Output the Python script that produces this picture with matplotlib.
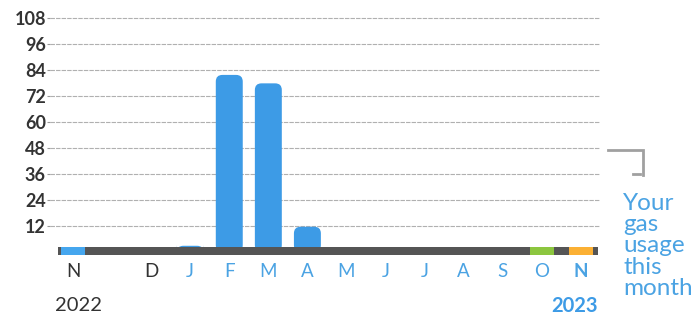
import numpy as np
import matplotlib
matplotlib.use("Agg")
import matplotlib.pyplot as plt
from matplotlib.patches import FancyBboxPatch, Rectangle

plt.rcParams['font.family'] = ['Lato', 'DejaVu Sans']

# data
months = ['N', 'D', 'J', 'F', 'M', 'A', 'M', 'J', 'J', 'A', 'S', 'O', 'N']
usage = [0, 0, 2.7, 81.7, 77.8, 11.5, 0, 0, 0, 0, 0, 0, 0]
strip_colors = ['#45a6ee', '#555555', '#555555', '#555555', '#555555', '#555555', '#555555',
                '#555555', '#555555', '#555555', '#555555', '#8cc63f', '#fbb034']
label_colors = ['#333333', '#333333'] + ['#4ba3e3'] * 11
yticks = [12, 24, 36, 48, 60, 72, 84, 96, 108]
years = ['2022', '2023']
note = ['Your', 'gas', 'usage', 'this', 'month']

bar_blue = '#3d9be6'
dark = '#333333'
W, H = 696, 316

# gap after the first month (last year's November)
x = np.r_[0, np.arange(2, 14)].astype(float)

fig = plt.figure(figsize=(W / 100, H / 100), dpi=100)
ax = fig.add_axes([50 / W, 1 - 264.6 / H, 550 / W, 250.9 / H])
ax.set_xlim(-0.589, 13.49)
ax.set_ylim(-6, 110)

# px per data unit to keep the corners round
px_x = 550 / (13.49 + 0.589)
px_y = 250.9 / 116
aspect = px_x / px_y

bw = 0.69
for xi, v in zip(x, usage):
    if v <= 0:
        continue
    p = FancyBboxPatch((xi - bw / 2, 0), bw, v,
                       boxstyle="round,pad=0,rounding_size=0.17",
                       mutation_aspect=aspect, fc=bar_blue, ec='none', zorder=2)
    ax.add_patch(p)

# base strip
s0, s1 = -0.384, 13.44
ax.add_patch(Rectangle((s0, -1.6), s1 - s0, 3.9, fc='#555555', ec='none', zorder=3))
for xi, c in zip(x, strip_colors):
    if c != '#555555':
        ax.add_patch(Rectangle((xi - 0.3, -1.6), 0.6, 3.9, fc=c, ec='none', zorder=4))

ax.set_yticks(yticks)
ax.set_yticklabels([str(t) for t in yticks], fontsize=13, fontweight='bold', color=dark)
ax.tick_params(axis='y', length=2, width=0.8, color='#999999', pad=1)
ax.set_xticks([])
ax.grid(axis='y', color='#b0b0b0', lw=0.8, ls=(0, (4, 1)))
ax.set_axisbelow(True)
for sp in ax.spines.values():
    sp.set_visible(False)

# month letters
for i, (xi, m) in enumerate(zip(x, months)):
    fw = 'bold' if i == len(months) - 1 else 'normal'
    ax.text(xi, -9.4, m, ha='center', va='center', fontsize=13.5,
            color=label_colors[i], fontweight=fw, clip_on=False)

ax.text(-0.45, -25, years[0], ha='left', va='center', fontsize=14.5, color=dark, clip_on=False)
ax.text(s1, -25, years[1], ha='right', va='center', fontsize=14.5, color='#3d9be6',
        fontweight='bold', clip_on=False)

# bracket on the right
ax.plot([13.70, 14.59, 14.59], [47.0, 47.0, 35.4], color='#a0a0a0', lw=2, clip_on=False,
        solid_joinstyle='miter')
ax.plot([14.34, 14.52], [35.9, 35.9], color='#a0a0a0', lw=2, clip_on=False)

for k, line in enumerate(note):
    fig.text(623 / W, 1 - (210 + 21.25 * k) / H, line, ha='left', va='baseline',
             fontsize=17.5, color='#4ba3e3')

fig.savefig('out.png', dpi=100)
